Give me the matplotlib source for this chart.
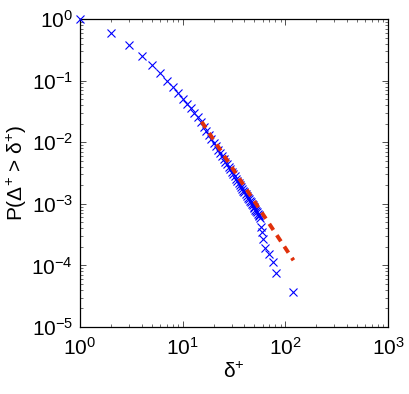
import matplotlib
matplotlib.use("Agg")
import matplotlib.pyplot as plt
from matplotlib.ticker import LogLocator, NullFormatter

plt.rcParams['font.family'] = ['Liberation Sans', 'DejaVu Sans']
plt.rcParams['mathtext.fontset'] = 'custom'
plt.rcParams['mathtext.rm'] = 'Liberation Sans'
plt.rcParams['mathtext.it'] = 'Liberation Sans'
plt.rcParams['mathtext.bf'] = 'Liberation Sans'
plt.rcParams['mathtext.default'] = 'regular'

# Empirical complementary CDF (blue crosses)
delta_x = [1, 2, 3, 4, 5, 6, 7, 8, 9, 10, 11, 12, 13, 14,
           15, 16, 17, 18, 19, 20, 21, 22, 23, 24, 25, 26, 27, 28, 29, 30,
           31, 32, 33, 34, 35, 36, 37, 38, 39, 40, 41, 42, 43, 44, 45, 46,
           47, 48, 49, 50, 51, 52, 53, 54, 55, 56, 57,
           58, 59, 61, 63, 69, 76, 81, 119]
prob_y = [1.0, 0.585, 0.378, 0.25, 0.176, 0.134, 0.0995, 0.0776, 0.062, 0.0512,
          0.042, 0.0355, 0.0298, 0.0252,
          0.0210, 0.0177, 0.0151, 0.0129, 0.0112, 0.00976, 0.00857, 0.00757,
          0.00672, 0.00600, 0.00538, 0.00484, 0.00438, 0.00397, 0.00362, 0.00331,
          0.00303, 0.00278, 0.00256, 0.00237, 0.00219, 0.00203, 0.00189, 0.00176,
          0.00164, 0.00153, 0.00144, 0.00135, 0.00126, 0.00119, 0.00112, 0.00106,
          0.000997, 0.000943, 0.000892, 0.000845, 0.000801, 0.000761, 0.000723,
          0.000688, 0.000655, 0.000624, 0.000590,
          0.00042, 0.00035, 0.00027, 0.000195, 0.000152, 0.000114, 0.000076, 0.000037]

# Power-law fit (red dashed line)
fit_x = [15.3, 120]
fit_y = [0.0215, 0.000121]

fig = plt.figure(figsize=(4.09, 3.94), dpi=100)
ax = fig.add_axes([80 / 409, 1 - 327 / 394, 308 / 409, 308 / 394])

ax.plot(delta_x, prob_y, linestyle='none', marker='x', color='#0000ff',
        markersize=5.2, markeredgewidth=0.8, clip_on=False, zorder=3)
ax.plot(fit_x, fit_y, color='#e0300a', linewidth=2.8, dashes=(1.9, 1.6),
        dash_capstyle='butt', zorder=4)

ax.set_xscale('log')
ax.set_yscale('log')
ax.set_xlim(1, 1000)
ax.set_ylim(1e-5, 1)

ax.xaxis.set_major_locator(LogLocator(base=10, numticks=10))
ax.yaxis.set_major_locator(LogLocator(base=10, numticks=10))
ax.xaxis.set_minor_locator(LogLocator(base=10, subs=range(2, 10), numticks=20))
ax.yaxis.set_minor_locator(LogLocator(base=10, subs=range(2, 10), numticks=20))
ax.xaxis.set_minor_formatter(NullFormatter())
ax.yaxis.set_minor_formatter(NullFormatter())

ax.tick_params(which='both', direction='in', top=True, right=True,
               labelsize=15, color='#333333')
ax.tick_params(which='major', length=4, width=0.6)
ax.tick_params(axis='x', which='major', pad=7)
ax.tick_params(axis='y', which='major', pad=5)
ax.tick_params(which='minor', length=2, width=0.5)

for s in ax.spines.values():
    s.set_linewidth(0.9)
    s.set_color('black')

ax.set_xlabel(r'$\mathregular{\delta^{+}}$', fontsize=15, labelpad=2)
ax.set_ylabel(r'P($\mathregular{\Delta^{+}}$ > $\mathregular{\delta^{+}}$)',
              fontsize=15, labelpad=2)

fig.savefig('out.png', dpi=100)
